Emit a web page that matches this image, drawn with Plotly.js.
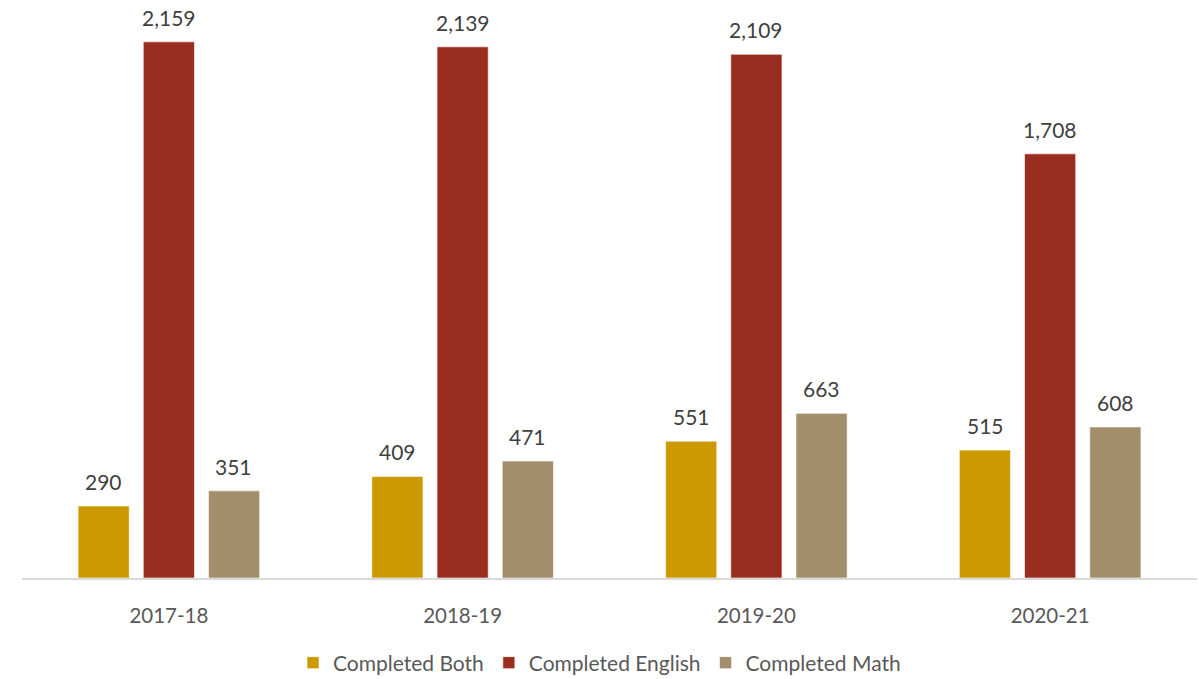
<!DOCTYPE html>
<html>
<head>
<meta charset="utf-8">
<script src="https://cdn.plot.ly/plotly-3.0.1.min.js"></script>
<style>html,body{margin:0;padding:0;background:#fff;}#chart{width:1199px;height:679px;}</style>
</head>
<body>
<div id="chart"></div>
<script>
const years = ["2017-18", "2018-19", "2019-20", "2020-21"];
const seriesNames = ["Completed Both", "Completed English", "Completed Math"];
const completedBoth = [290, 409, 551, 515];
const completedEnglish = [2159, 2139, 2109, 1708];
const completedMath = [351, 471, 663, 608];
const colors = ["#CC9900", "#992D1F", "#A28E6A"];

const allSeries = [completedBoth, completedEnglish, completedMath];
const FONT = "Lato, 'Open Sans', sans-serif";

const traces = allSeries.map((vals, i) => ({
  type: "bar",
  name: seriesNames[i],
  x: years,
  y: vals,
  marker: {color: colors[i], line: {color: "rgba(255,255,255,0.6)", width: 1}},
  hoverinfo: "x+y+name"
}));

const slotPx = 65;
const annotations = [];
allSeries.forEach((vals, i) => {
  vals.forEach((v, j) => {
    annotations.push({
      x: years[j], y: v, xref: "x", yref: "y",
      text: v.toLocaleString("en-US"),
      showarrow: false,
      xshift: (i - 1) * slotPx,
      yshift: 10,
      yanchor: "bottom",
      font: {family: FONT, size: 21, color: "#404040"}
    });
  });
});

const layout = {
  width: 1199, height: 679,
  margin: {l: 22, r: 2, t: 20, b: 101},
  paper_bgcolor: "#ffffff", plot_bgcolor: "#ffffff",
  barmode: "group",
  bargap: 0.334,
  bargroupgap: 0.215,
  showlegend: true,
  legend: {orientation: "h", x: 0.5, xanchor: "center", xref: "container",
           y: 0.0236, yanchor: "middle", yref: "container",
           font: {family: FONT, size: 21, color: "#595959"}, traceorder: "normal"},
  xaxis: {showline: true, linecolor: "#D9D9D9", linewidth: 2, ticks: "",
          ticklabelstandoff: 18,
          tickfont: {family: FONT, size: 20.5, color: "#595959"}, showgrid: false, fixedrange: true},
  yaxis: {range: [0, 2247], visible: false, showgrid: false, zeroline: false, fixedrange: true},
  annotations: annotations
};

Plotly.newPlot("chart", traces, layout, {displayModeBar: false, staticPlot: true});
</script>
</body>
</html>
